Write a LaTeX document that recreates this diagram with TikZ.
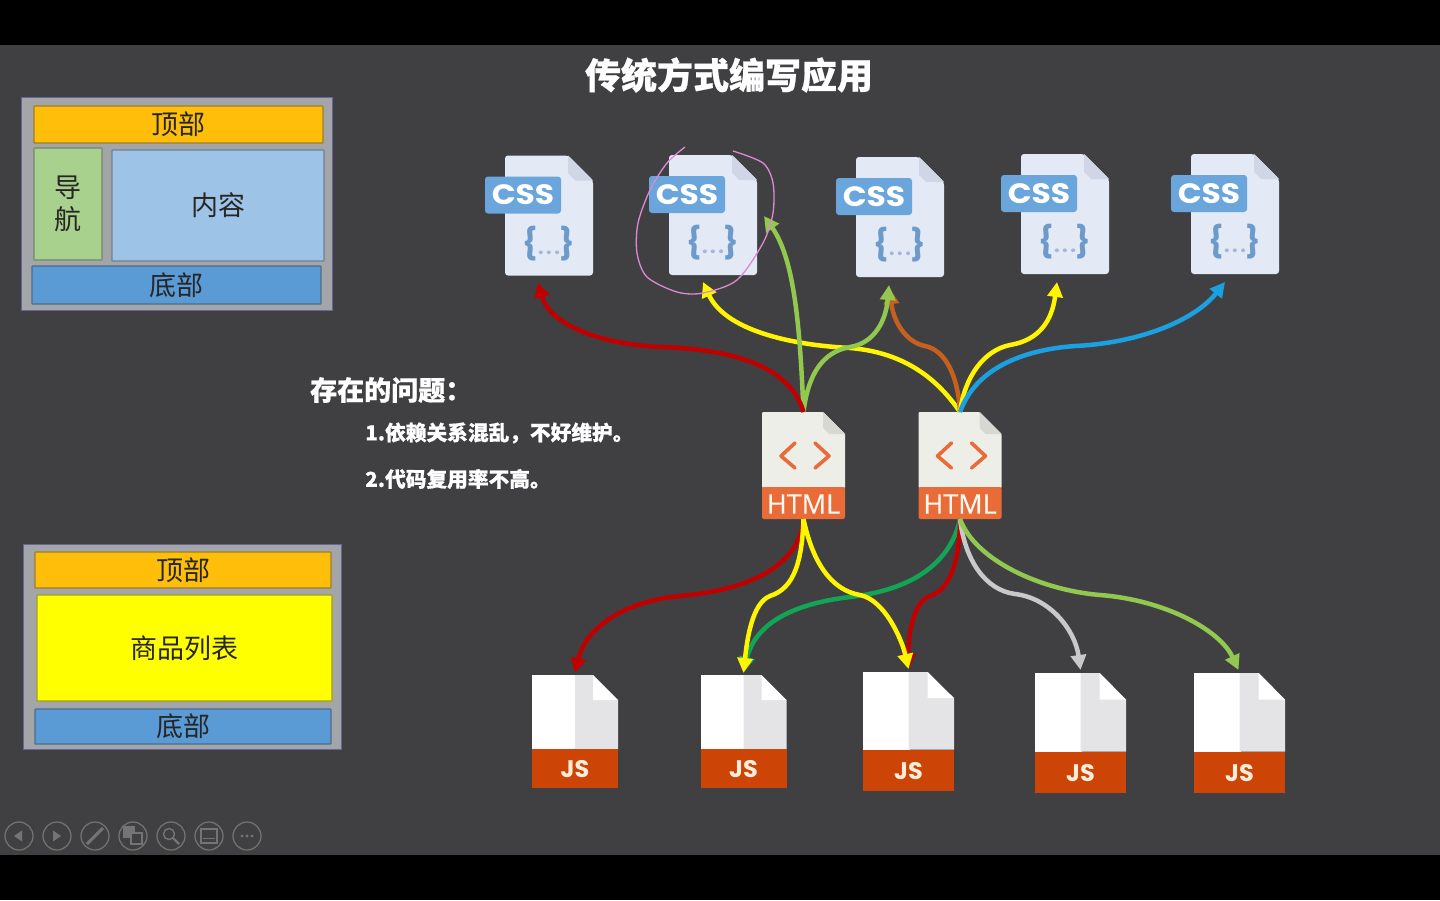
\documentclass[tikz,border=0pt]{standalone}
\usepackage{fontspec}
\setmainfont[BoldFeatures={FakeBold=0.6}]{Noto Sans CJK SC}
\newfontfamily\cssfont[FakeStretch=1.12]{Poppins}
\newfontfamily\jsfont{Poppins}
\newfontfamily\htmlfont[FakeBold=0.4]{Open Sans}
\usepackage{tikz}
\usetikzlibrary{arrows.meta, positioning}
\definecolor{slidebg}{HTML}{404042}
\definecolor{shellgray}{HTML}{A3A5A8}
\definecolor{topgold}{HTML}{FFBE0A}
\definecolor{navgreen}{HTML}{A9D18E}
\definecolor{mainblue}{HTML}{9DC3E6}
\definecolor{footblue}{HTML}{5B9BD5}
\definecolor{listyellow}{HTML}{FFFF00}
\definecolor{cssbody}{HTML}{E3E9F5}
\definecolor{cssfold}{HTML}{D0D6E5}
\definecolor{cssblue}{HTML}{6AA5DB}
\definecolor{cssbrace}{HTML}{6C9BCB}
\definecolor{cssdots}{HTML}{A3B8D8}
\definecolor{htmlbody}{HTML}{EEEEE9}
\definecolor{htmlfold}{HTML}{D8D8D2}
\definecolor{htmlband}{HTML}{E86B38}
\definecolor{jsside}{HTML}{E4E4E6}
\definecolor{jsband}{HTML}{CC4406}
\definecolor{wirered}{HTML}{C00000}
\definecolor{wiregreen}{HTML}{92C850}
\definecolor{wireyellow}{HTML}{FFF500}
\definecolor{wirebrown}{HTML}{C5601F}
\definecolor{wireblue}{HTML}{1BA1E2}
\definecolor{wiredark}{HTML}{12A555}
\definecolor{wiregray}{HTML}{C9C9C9}
\definecolor{toolgray}{HTML}{747474}
\definecolor{penpink}{HTML}{DE8AD2}
\tikzset{>={Triangle[length=15pt,width=15pt]}}
\tikzset{
  fileslot/.style={inner sep=0pt, outer sep=0pt},
  pagebox/.style={draw=#1!65!gray!75!black, fill=#1, line width=1.2pt, rounded corners=0.6pt, inner sep=0pt, align=center,
    text=black!85, font=\fontsize{27pt}{32pt}\selectfont},
  shell/.style={draw=gray!80!blue, fill=shellgray, line width=1pt, inner sep=0pt},
  slidetext/.style={text=white, inner sep=0pt, font=\bfseries\fontsize{#1}{#1}\selectfont},
  wire/.style={->, line width=4.5pt},
  toolring/.style={draw=toolgray, line width=1.2pt},
}
\newcommand{\cssfile}[3]{
  \node[fileslot, minimum width=88pt, minimum height=120pt] (#1) at (#2,#3) {};
  \begin{scope}[shift={(#1.north west)}]
    \fill[cssbody, rounded corners=3pt] (0,0) -- (63,0) -- (88,25) -- (88,120) -- (0,120) -- cycle;
    \fill[cssfold] (63,0) -- (88,25) -- (70,25) -- (63,18) -- cycle;
    \node[fill=cssblue, rounded corners=3pt, minimum width=76pt, minimum height=37pt, inner sep=0pt,
      text=white, font=\cssfont\bfseries\fontsize{28pt}{28pt}\selectfont] (#1label) at (18,39.5) {CSS};
    \node[inner sep=0pt, font=\jsfont\bfseries\fontsize{31pt}{31pt}\selectfont] (#1code) at (44,88)
      {\textcolor{cssbrace}{\{}\textcolor{cssdots}{\fontsize{20pt}{20pt}\selectfont.\hspace{2.5pt}.\hspace{2.5pt}.}\textcolor{cssbrace}{\}}};
  \end{scope}
}
\newcommand{\htmlfile}[3]{
  \node[fileslot, minimum width=83pt, minimum height=107pt] (#1) at (#2,#3) {};
  \begin{scope}[shift={(#1.north west)}]
    \fill[htmlbody, rounded corners=1pt] (0,0) -- (61,0) -- (83,22) -- (83,76) -- (0,76) -- cycle;
    \fill[htmlfold] (61,0) -- (83,22) -- (67,22) -- (61,16) -- cycle;
    \fill[htmlband, rounded corners=2pt] (0,75) -- (83,75) -- (83,107) -- (0,107) -- cycle;
    \draw[htmlband, line width=3.6pt, line cap=round, line join=round] (33,31) -- (19,44) -- (33,56);
    \draw[htmlband, line width=3.6pt, line cap=round, line join=round] (53,31) -- (67,44) -- (53,56);
    \node[inner sep=0pt, text=white!95!orange, font=\htmlfont\fontsize{27pt}{27pt}\selectfont] (#1label) at (41.5,92) {HTML};
  \end{scope}
}
\newcommand{\jsfile}[5]{
  \node[fileslot, minimum width=#4 pt, minimum height=#5 pt] (#1) at (#2,#3) {};
  \begin{scope}[shift={(#1.north west)}, xscale=#4/86, yscale=#5/113]
    \fill[white] (0,0) rectangle (44,74);
    \fill[jsside] (43,0) -- (61,0) -- (86,25) -- (86,74) -- (43,74) -- cycle;
    \fill[white] (61,0) -- (86,25) -- (61,25) -- cycle;
    \fill[jsband] (0,74) rectangle (86,113);
    \coordinate (#1mid) at (43,94);
  \end{scope}
  \node[inner sep=0pt, text=orange!15!white, font=\jsfont\bfseries\fontsize{24pt}{24pt}\selectfont] (#1label) at (#1mid) {JS};
}
\begin{document}
\begin{tikzpicture}[x=1pt, y=-1pt]
  \useasboundingbox (0,0) rectangle (1440,900);
  \fill[slidebg] (0,0) rectangle (1440,900);
  \fill[black] (0,0) rectangle (1440,45);
  \fill[black] (0,855) rectangle (1440,900);

  \node[slidetext=36pt] (title) at (729,75) {传统方式编写应用};

  \node[shell, minimum width=311pt, minimum height=213pt] (page1) at (176.5,203.5) {};
  \node[pagebox=topgold, minimum width=289pt, minimum height=37pt] (top1) at (178.5,124.5) {顶部};
  \node[pagebox=navgreen, minimum width=68pt, minimum height=112pt] (nav1) at (68,204) {导\\航};
  \node[pagebox=mainblue, minimum width=212pt, minimum height=111pt] (main1) at (218,205.5) {内容};
  \node[pagebox=footblue, minimum width=289pt, minimum height=38pt] (foot1) at (176.5,285) {底部};

  \node[shell, minimum width=318pt, minimum height=205pt] (page2) at (182,646.5) {};
  \node[pagebox=topgold, minimum width=296pt, minimum height=36pt] (top2) at (183,570) {顶部};
  \node[pagebox=listyellow, minimum width=295pt, minimum height=106pt] (list2) at (184.5,648) {商品列表};
  \node[pagebox=footblue, minimum width=296pt, minimum height=35pt] (foot2) at (183,726.5) {底部};

  \node[slidetext=27pt, anchor=west] (issue) at (310,390) {存在的问题：};
  \node[slidetext=20.7pt, anchor=west] (issue1) at (365,433) {1.依赖关系混乱，不好维护。};
  \node[slidetext=20.7pt, anchor=west] (issue2) at (365,479) {2.代码复用率不高。};

  \cssfile{css1}{549}{215.5}
  \cssfile{css2}{713}{215}
  \cssfile{css3}{900}{217}
  \cssfile{css4}{1065}{214}
  \cssfile{css5}{1235}{214}

  \htmlfile{html1}{803.5}{465.5}
  \htmlfile{html2}{960}{465.5}

  \jsfile{js1}{575}{731.5}{86}{113}
  \jsfile{js2}{743.5}{731.5}{86}{113}
  \jsfile{js3}{908.5}{731.25}{91}{118.5}
  \jsfile{js4}{1080.5}{733}{91}{120}
  \jsfile{js5}{1239.5}{733}{91}{120}

  \draw[wire, wireyellow] (html2.north) .. controls (935,375) and (900,352) .. (850,348)
    .. controls (790,345) and (725,330) .. ([shift={(-10,7)}]css2.south);
  \draw[wire, wirebrown] (html2.north) .. controls (958,375) and (945,350) .. (925,346)
    .. controls (905,342) and (893,320) .. ([shift={(-10,12)}]css3.south);
  \draw[wire, wiregreen] (html1.north) .. controls (800,330) and (795,260) .. ([shift={(7,1)}]css2.east);
  \draw[wire, wiregreen] (html1.north) .. controls (808,375) and (822,352) .. (850,347)
    .. controls (875,343) and (886,320) .. ([shift={(-11,8)}]css3.south);
  \draw[wire, wirered] (html1.north) .. controls (790,365) and (730,349) .. (660,347)
    .. controls (600,344) and (550,325) .. ([shift={(-11,7)}]css1.south);
  \draw[wire, wireyellow] (html2.north) .. controls (965,375) and (985,350) .. (1010,345)
    .. controls (1040,340) and (1052,320) .. ([shift={(-8,8)}]css4.south);
  \draw[wire, wireblue] (html2.north) .. controls (975,370) and (1020,350) .. (1075,346)
    .. controls (1140,343) and (1195,320) .. ([shift={(-10,8)}]css5.south);

  \draw[wire, wirered] (html1.south) .. controls (800,565) and (750,590) .. (680,596)
    .. controls (620,602) and (585,630) .. ([shift={(0,-2)}]js1.north);
  \draw[wire, wiredark] (html2.south) .. controls (950,565) and (910,590) .. (850,597)
    .. controls (790,604) and (755,625) .. ([shift={(0,-3)}]js2.north);
  \draw[wire, wireyellow] (html1.south) .. controls (802,560) and (795,588) .. (770,596)
    .. controls (752,603) and (747,640) .. ([shift={(0,-2)}]js2.north);
  \draw[wire, wirered] (html2.south) .. controls (960,560) and (950,590) .. (930,596)
    .. controls (912,602) and (908,640) .. ([shift={(0,-3)}]js3.north);
  \draw[wire, wireyellow] (html1.south) .. controls (812,560) and (830,590) .. (860,595)
    .. controls (885,600) and (902,640) .. ([shift={(0,-3)}]js3.north);
  \draw[wire, wiregray] (html2.south) .. controls (965,560) and (985,590) .. (1015,594)
    .. controls (1050,598) and (1075,630) .. ([shift={(0,-3)}]js4.north);
  \draw[wire, wiregreen] (html2.south) .. controls (975,560) and (1040,590) .. (1100,595)
    .. controls (1165,600) and (1220,630) .. ([shift={(-1,-3)}]js5.north);

  \draw[penpink, line width=1.3pt] plot[smooth] coordinates {(685,147) (667,163) (650,190) (638,223)
    (637,253) (647,277) (677,292) (703,293) (737,280) (763,243) (773,213) (773,183) (763,163) (733,151)};

  \foreach \cx in {19,57,95,133,171,209,247}
    \draw[toolring] (\cx,836) circle (14);
  \fill[toolgray] (14,836) -- (22,830.5) -- (22,841.5) -- cycle;
  \fill[toolgray] (61,836) -- (53,830.5) -- (53,841.5) -- cycle;
  \draw[toolgray, line width=3pt] (87,844) -- (103,828);
  \draw[toolgray, line width=1.2pt] (124,827) rectangle (134,837);
  \fill[toolgray] (125,828) rectangle (133,836);
  \fill[slidebg] (130,832) rectangle (143,845);
  \draw[toolgray, line width=1.4pt] (131,833) rectangle (142,844);
  \draw[toolgray, line width=1.4pt] (169,834) circle (5.5);
  \draw[toolgray, line width=2.4pt] (173,838) -- (179,844);
  \draw[toolgray, line width=1.2pt] (201,829) rectangle (217,843);
  \draw[toolgray, line width=1pt] (203,838) -- (215,838);
  \foreach \cx in {242,247,252}
    \fill[toolgray] (\cx,836) circle (1.7);
\end{tikzpicture}
\end{document}
